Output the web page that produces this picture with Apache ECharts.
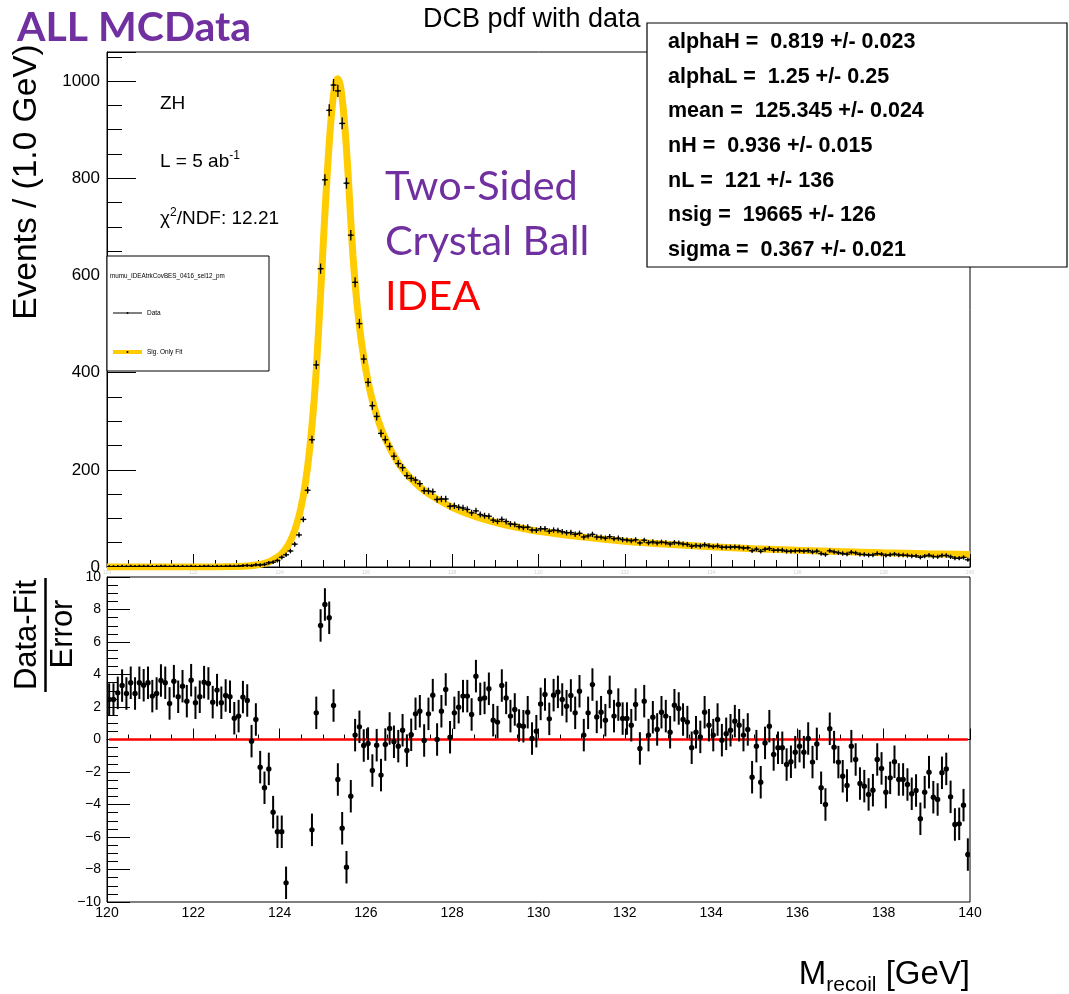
<!DOCTYPE html>
<html>
<head>
<meta charset="utf-8">
<script src="https://cdn.jsdelivr.net/npm/echarts@6/dist/echarts.min.js"></script>
<style>
  html, body { margin: 0; padding: 0; background: #fff; }
  #chart { width: 1069px; height: 994px; }
</style>
</head>
<body>
<div id="chart"></div>
<script>
// Histogram binning of the recoil-mass spectrum
const HIST_MIN = 120;
const BIN_WIDTH = 0.1;
const N_BINS = 200;

// Weighted event counts per 0.1 GeV bin (120.05 ... 139.95 GeV)
const dataY = [
  0.5, 0.5, 0.7, 1.0, 0.7, 1.1, 0.7, 1.1, 1.0, 1.1,
  0.6, 0.7, 1.2, 1.1, 0.4, 1.2, 0.6, 1.0, 0.5, 1.2,
  0.5, 0.6, 1.2, 1.3, 0.7, 1.2, 0.9, 1.3, 1.5, 1.2,
  1.6, 2.7, 3.3, 2.7, 4.6, 4.2, 5.3, 8.6, 10.0, 13.5,
  20.0, 25.2, 33, 47, 66, 98, 158, 262, 416, 614,
  797, 940, 992, 980, 913, 790, 683, 586, 501, 428,
  380, 332, 310, 275, 262, 248, 228, 213, 204.5, 188,
  182.5, 179, 171.5, 157, 156.5, 155, 139, 140, 140, 125,
  126, 123, 121.5, 118.5, 111.5, 115.5, 108, 105.5, 104.5, 96.5,
  94, 98, 93.7, 88.6, 87.7, 83.2, 81.4, 82, 76.2, 75.8,
  78.7, 78.7, 73.6, 75.9, 75, 72.6, 70.5, 70.9, 67.3, 69.3,
  61.8, 64.1, 67.2, 61.7, 61.4, 59.4, 62.5, 58.3, 59.2, 56.4,
  55.6, 54, 56, 49.6, 55.1, 50, 51.7, 49.5, 51.2, 50.1,
  47.4, 50.3, 49.4, 47.4, 46.5, 42.9, 44.3, 43.2, 45.8, 43.7,
  42, 43.5, 40.6, 40.9, 40.9, 41.5, 40.6, 39.1, 39.5, 33.6,
  36.7, 32.4, 36.4, 38, 34.4, 34.9, 34.6, 32.5, 32.5, 33.2,
  33.6, 32.6, 33.8, 31, 32.6, 27.7, 25.7, 33.4, 31.2, 29.4,
  27.7, 26.6, 30.3, 28.8, 26, 25.6, 24.5, 24.8, 27.6, 26.5,
  23.9, 25.2, 26.6, 24.7, 24.5, 23.8, 22.7, 22.8, 20, 22.4,
  24.1, 21.6, 21.2, 23.6, 23.8, 21, 18.2, 18.1, 19.7, 14.9
];

// Statistical uncertainty on each bin
const dataErr = [
  0.2, 0.2, 0.3, 0.3, 0.3, 0.3, 0.3, 0.3, 0.3, 0.3,
  0.2, 0.3, 0.3, 0.3, 0.2, 0.3, 0.2, 0.3, 0.2, 0.3,
  0.2, 0.2, 0.3, 0.3, 0.3, 0.3, 0.3, 0.3, 0.4, 0.3,
  0.4, 0.5, 0.5, 0.5, 0.6, 0.6, 0.7, 0.9, 0.9, 1.1,
  1.3, 1.5, 1.7, 2.1, 2.4, 3.0, 3.8, 4.9, 6.1, 7.4,
  8.5, 9.2, 9.4, 9.4, 9.1, 8.4, 7.8, 7.3, 6.7, 6.2,
  5.8, 5.5, 5.3, 5.0, 4.9, 4.7, 4.5, 4.4, 4.3, 4.1,
  4.1, 4.0, 3.9, 3.8, 3.8, 3.7, 3.5, 3.5, 3.5, 3.4,
  3.4, 3.3, 3.3, 3.3, 3.2, 3.2, 3.1, 3.1, 3.1, 2.9,
  2.9, 3.0, 2.9, 2.8, 2.8, 2.7, 2.7, 2.7, 2.6, 2.6,
  2.7, 2.7, 2.6, 2.6, 2.6, 2.6, 2.5, 2.5, 2.5, 2.5,
  2.4, 2.4, 2.5, 2.4, 2.4, 2.3, 2.4, 2.3, 2.3, 2.3,
  2.2, 2.2, 2.2, 2.1, 2.2, 2.1, 2.2, 2.1, 2.1, 2.1,
  2.1, 2.1, 2.1, 2.1, 2.0, 2.0, 2.0, 2.0, 2.0, 2.0,
  1.9, 2.0, 1.9, 1.9, 1.9, 1.9, 1.9, 1.9, 1.9, 1.7,
  1.8, 1.7, 1.8, 1.8, 1.8, 1.8, 1.8, 1.7, 1.7, 1.7,
  1.7, 1.7, 1.7, 1.7, 1.7, 1.6, 1.5, 1.7, 1.7, 1.6,
  1.6, 1.5, 1.7, 1.6, 1.5, 1.5, 1.5, 1.5, 1.6, 1.5,
  1.5, 1.5, 1.5, 1.5, 1.5, 1.5, 1.4, 1.4, 1.3, 1.4,
  1.5, 1.4, 1.4, 1.5, 1.5, 1.4, 1.3, 1.3, 1.3, 1.2
];

// Double Crystal Ball fit curve (signal only)
const fitX = [
  120, 121, 122, 122.5, 123, 123.25, 123.5, 123.75, 124, 124.1,
  124.2, 124.3, 124.4, 124.5, 124.6, 124.7, 124.8, 124.85, 124.9, 124.95,
  125.0, 125.05, 125.1, 125.15, 125.2, 125.25, 125.3, 125.345, 125.4, 125.45,
  125.5, 125.55, 125.6, 125.65, 125.7, 125.75, 125.8, 125.85, 125.9, 126.0,
  126.1, 126.2, 126.3, 126.4, 126.6, 126.8, 127.0, 127.25, 127.5, 128,
  128.5, 129, 129.5, 130, 131, 132, 133, 134, 135, 136,
  137, 138, 139, 140
];
const fitY = [
  0, 0, 0.04, 0.18, 0.88, 1.98, 4.5, 10.2, 23.3, 32.6,
  45.4, 63.5, 88.8, 124, 174, 245, 343, 406.6, 482, 563,
  646, 727.5, 804, 872.7, 930, 971.9, 997, 1005, 994, 964.7,
  919, 859.9, 790, 711.6, 641, 584, 536, 496, 461, 405,
  361, 327, 298, 274, 237, 208, 186, 164.7, 148, 123,
  105, 92, 81.8, 73.5, 62, 53, 46.7, 41.7, 37.7, 34.4,
  31.7, 29.4, 27.4, 25.7
];

// (Data - Fit) / Error per bin; null where the pull falls below the axis range
const pullY = [
  2.46, 2.46, 2.87, 3.32, 2.83, 3.49, 2.83, 3.49, 3.34, 3.49,
  2.67, 2.83, 3.63, 3.49, 2.22, 3.59, 2.63, 3.28, 2.36, 3.65,
  2.26, 2.63, 3.53, 3.45, 2.30, 3.04, 2.26, 2.71, 2.63, 1.31,
  1.44, 2.61, 2.40, -0.10, 1.23, -1.70, -2.97, -1.81, -4.47, -5.68,
  -5.68, -8.82, null, null, null, null, null, -5.56, 1.64, 7.02,
  8.31, 7.49, 2.09, -2.46, -5.46, -7.86, -3.49, 0.27, 0.78, -0.37,
  -0.25, -1.91, -0.35, -2.19, -0.31, 0.68, -0.14, -0.41, 0.57, -0.68,
  0.29, 1.58, 1.74, -0.06, 1.58, 2.73, 0.00, 1.74, 3.08, 0.14,
  1.64, 1.99, 2.67, 2.67, 1.54, 3.90, 2.50, 2.56, 3.12, 1.19,
  1.07, 3.32, 2.56, 1.44, 1.85, 0.86, 0.82, 1.68, 0.06, 0.51,
  2.19, 2.77, 1.27, 2.73, 2.93, 2.46, 2.05, 2.71, 1.64, 2.97,
  0.27, 1.64, 3.38, 1.39, 1.68, 1.19, 2.93, 1.44, 2.15, 1.29,
  1.29, 0.88, 2.15, -0.55, 2.36, 0.27, 1.37, 0.62, 1.68, 1.44,
  0.45, 2.11, 1.91, 1.23, 1.07, -0.51, 0.45, 0.16, 1.68, 0.88,
  0.27, 1.23, -0.04, 0.35, 0.57, 1.13, 0.88, 0.27, 0.62, -2.32,
  -0.41, -2.63, -0.21, 0.82, -0.92, -0.51, -0.51, -1.54, -1.37, -0.78,
  -0.41, -0.78, 0.06, -1.39, -0.27, -2.97, -4.00, 0.66, -0.47, -1.39,
  -2.26, -2.83, -0.41, -1.23, -2.71, -2.87, -3.38, -3.12, -1.23, -1.78,
  -3.24, -2.36, -1.37, -2.46, -2.46, -2.77, -3.34, -3.14, -4.88, -3.24,
  -2.01, -3.55, -3.69, -2.05, -1.81, -3.53, -5.23, -5.19, -4.04, -7.08
];
const PULL_ERR = 1; // pulls carry unit uncertainty

// Fit parameter summary
const statLines = [
  'alphaH =  0.819 +/- 0.023',
  'alphaL =  1.25 +/- 0.25',
  'mean =  125.345 +/- 0.024',
  'nH =  0.936 +/- 0.015',
  'nL =  121 +/- 136',
  'nsig =  19665 +/- 126',
  'sigma =  0.367 +/- 0.021'
];

const binCenters = Array.from({ length: N_BINS }, (_, i) => +(HIST_MIN + (i + 0.5) * BIN_WIDTH).toFixed(2));

const HELV = '"Liberation Sans", Arial, Helvetica, sans-serif';
const CAL = 'Lato, "Open Sans", sans-serif';
const PURPLE = '#7030A0';
const FIT_YELLOW = '#FFCC00';

const chart = echarts.init(document.getElementById('chart'), null, { renderer: 'canvas' });

function renderCross(params, api) {
  const x = api.value(0), v = api.value(1), e = api.value(2);
  const top = api.coord([x, v + e]);
  const bot = api.coord([x, v - e]);
  const l = api.coord([x - BIN_WIDTH / 2, v]);
  const r = api.coord([x + BIN_WIDTH / 2, v]);
  const style = { stroke: '#000', lineWidth: 1.3 };
  return {
    type: 'group',
    children: [
      { type: 'line', shape: { x1: top[0], y1: top[1] - 1.5, x2: bot[0], y2: bot[1] + 1.5 }, style },
      { type: 'line', shape: { x1: l[0] - 0.8, y1: l[1], x2: r[0] + 0.8, y2: r[1] }, style },
      { type: 'circle', shape: { cx: (l[0] + r[0]) / 2, cy: l[1], r: 1.2 }, style: { fill: '#000' } }
    ]
  };
}

function renderPull(params, api) {
  const x = api.value(0), p = api.value(1);
  const c = api.coord([x, p]);
  const t = api.coord([x, p + PULL_ERR]);
  const b = api.coord([x, p - PULL_ERR]);
  return {
    type: 'group',
    children: [
      { type: 'line', shape: { x1: t[0], y1: t[1], x2: b[0], y2: b[1] }, style: { stroke: '#000', lineWidth: 2 } },
      { type: 'circle', shape: { cx: c[0], cy: c[1], r: 2.7 }, style: { fill: '#000' } }
    ]
  };
}

const axisBlack = { color: '#000', width: 1 };
const minusFmt = v => (v < 0 ? '\u2212' + Math.abs(v) : String(v));
const plainFmt = v => String(v);

const graphics = [];
// Top-left banner
graphics.push({ type: 'text', x: 17, y: 28, z: 100,
  style: { text: 'ALL MCData', font: 'bold 41px ' + CAL, fill: PURPLE, align: 'left', verticalAlign: 'middle' } });
// Plot title
graphics.push({ type: 'text', x: 423, y: 20, z: 99,
  style: { text: 'DCB pdf with data', font: '27px ' + HELV, fill: '#000', align: 'left', verticalAlign: 'middle' } });
// Parameter box
graphics.push({ type: 'rect', z: 100, shape: { x: 647, y: 23, width: 420, height: 244 },
  style: { fill: '#fff', stroke: '#000', lineWidth: 1.2 } });
statLines.forEach((s, k) => {
  graphics.push({ type: 'text', x: 668, y: 42 + k * 34.7, z: 101,
    style: { text: s, font: 'bold 21.5px ' + HELV, fill: '#000', align: 'left', verticalAlign: 'middle' } });
});
// Sample / luminosity / fit quality
graphics.push({ type: 'text', x: 160, y: 104, z: 100,
  style: { text: 'ZH', font: '19px ' + HELV, fill: '#000', align: 'left', verticalAlign: 'middle' } });
graphics.push({ type: 'text', x: 160, y: 162, z: 100,
  style: { text: '{n|L = 5 ab}{s|-1}', fill: '#000', align: 'left', verticalAlign: 'middle',
    rich: { n: { font: '19px ' + HELV, fill: '#000' }, s: { font: '12px ' + HELV, fill: '#000', padding: [0, 0, 12, 0] } } } });
graphics.push({ type: 'text', x: 160, y: 219, z: 100,
  style: { text: '{n|\u03c7}{s|2}{n|/NDF: 12.21}', fill: '#000', align: 'left', verticalAlign: 'middle',
    rich: { n: { font: '19px ' + HELV, fill: '#000' }, s: { font: '12px ' + HELV, fill: '#000', padding: [0, 0, 12, 0] } } } });
// Legend box
graphics.push({ type: 'rect', z: 100, shape: { x: 107, y: 256, width: 162, height: 115 },
  style: { fill: '#fff', stroke: '#000', lineWidth: 1 } });
graphics.push({ type: 'text', x: 110, y: 276, z: 101,
  style: { text: 'mumu_IDEAtrkCovBES_0416_sel12_pm', font: '6.3px ' + HELV, fill: '#000', align: 'left', verticalAlign: 'middle' } });
graphics.push({ type: 'line', z: 101, shape: { x1: 113, y1: 313, x2: 142, y2: 313 }, style: { stroke: '#000', lineWidth: 1 } });
graphics.push({ type: 'circle', z: 102, shape: { cx: 127.5, cy: 313, r: 1 }, style: { fill: '#000' } });
graphics.push({ type: 'text', x: 147, y: 313, z: 101,
  style: { text: 'Data', font: '6.5px ' + HELV, fill: '#000', align: 'left', verticalAlign: 'middle' } });
graphics.push({ type: 'line', z: 101, shape: { x1: 113, y1: 352, x2: 142, y2: 352 }, style: { stroke: FIT_YELLOW, lineWidth: 4 } });
graphics.push({ type: 'circle', z: 102, shape: { cx: 127.5, cy: 352, r: 1 }, style: { fill: '#000' } });
graphics.push({ type: 'text', x: 147, y: 352, z: 101,
  style: { text: 'Sig. Only Fit', font: '6.5px ' + HELV, fill: '#000', align: 'left', verticalAlign: 'middle' } });
// Model / detector annotation
graphics.push({ type: 'text', x: 385, y: 187, z: 100,
  style: { text: 'Two-Sided', font: '41.5px ' + CAL, fill: PURPLE, align: 'left', verticalAlign: 'middle' } });
graphics.push({ type: 'text', x: 385, y: 242, z: 100,
  style: { text: 'Crystal Ball', font: '41.5px ' + CAL, fill: PURPLE, align: 'left', verticalAlign: 'middle' } });
graphics.push({ type: 'text', x: 385, y: 297, z: 100,
  style: { text: 'IDEA', font: '41.5px ' + CAL, fill: '#FF0000', align: 'left', verticalAlign: 'middle' } });
// Axis titles
graphics.push({ type: 'text', x: 27, y: 182, rotation: Math.PI / 2, z: 100,
  style: { text: 'Events / (1.0 GeV)', font: '33.5px ' + HELV, fill: '#000', align: 'center', verticalAlign: 'middle' } });
graphics.push({ type: 'text', x: 27, y: 635, rotation: Math.PI / 2, z: 100,
  style: { text: 'Data-Fit', font: '31px ' + HELV, fill: '#000', align: 'center', verticalAlign: 'middle' } });
graphics.push({ type: 'line', z: 100, shape: { x1: 45.5, y1: 578, x2: 45.5, y2: 692 }, style: { stroke: '#000', lineWidth: 2.5 } });
graphics.push({ type: 'text', x: 63, y: 634, rotation: Math.PI / 2, z: 100,
  style: { text: 'Error', font: '31px ' + HELV, fill: '#000', align: 'center', verticalAlign: 'middle' } });
graphics.push({ type: 'text', x: 970, y: 975, z: 100,
  style: { text: '{m|M}{s|recoil}{m| [GeV]}', fill: '#000', align: 'right', verticalAlign: 'middle',
    rich: { m: { font: '33px ' + HELV, fill: '#000' }, s: { font: '21px ' + HELV, fill: '#000', padding: [20, 0, 0, 0] } } } });

const option = {
  animation: false,
  backgroundColor: '#fff',
  grid: [
    { left: 107, top: 52, width: 863, height: 515, show: true, borderColor: '#000', borderWidth: 1, backgroundColor: 'transparent' },
    { left: 107, top: 577, width: 863, height: 325, show: true, borderColor: '#000', borderWidth: 1, backgroundColor: 'transparent' }
  ],
  xAxis: [
    { gridIndex: 0, type: 'value', min: 120, max: 140, interval: 2,
      axisLine: { lineStyle: axisBlack },
      axisTick: { inside: true, length: 13, lineStyle: axisBlack },
      minorTick: { show: true, splitNumber: 4, length: 7, lineStyle: axisBlack },
      axisLabel: { show: true, fontSize: 5, color: '#d0d0d0', margin: 3, fontFamily: HELV, formatter: plainFmt },
      splitLine: { show: false } },
    { gridIndex: 1, type: 'value', min: 120, max: 140, interval: 2,
      axisLine: { lineStyle: axisBlack },
      axisTick: { inside: true, length: 11, lineStyle: axisBlack },
      minorTick: { show: true, splitNumber: 4, length: 5, lineStyle: axisBlack },
      axisLabel: { fontSize: 14, color: '#000', margin: 4, fontFamily: HELV, formatter: plainFmt },
      splitLine: { show: false } }
  ],
  yAxis: [
    { gridIndex: 0, type: 'value', min: 0, max: 1060, interval: 200,
      axisLine: { show: true, lineStyle: axisBlack },
      axisTick: { show: true, inside: true, length: 29, lineStyle: axisBlack },
      minorTick: { show: true, splitNumber: 4, length: 15, lineStyle: axisBlack },
      axisLabel: { fontSize: 17, color: '#000', margin: 7, fontFamily: HELV, showMaxLabel: false, formatter: plainFmt },
      splitLine: { show: false } },
    { gridIndex: 1, type: 'value', min: -10, max: 10, interval: 2,
      axisLine: { show: true, lineStyle: axisBlack },
      axisTick: { show: true, inside: true, length: 23, lineStyle: axisBlack },
      minorTick: { show: true, splitNumber: 4, length: 11, lineStyle: axisBlack },
      axisLabel: { fontSize: 14, color: '#000', margin: 6, fontFamily: HELV, formatter: minusFmt },
      splitLine: { show: false } }
  ],
  series: [
    { type: 'line', name: 'Sig. Only Fit', xAxisIndex: 0, yAxisIndex: 0,
      data: fitX.map((x, i) => [x, fitY[i]]),
      showSymbol: false, smooth: 0.25, z: 2,
      lineStyle: { color: FIT_YELLOW, width: 7 } },
    { type: 'custom', name: 'Data', xAxisIndex: 0, yAxisIndex: 0, z: 3, clip: true,
      renderItem: renderCross,
      data: binCenters.map((x, i) => [x, dataY[i], dataErr[i]]) },
    { type: 'line', name: 'zero', xAxisIndex: 1, yAxisIndex: 1, z: 2,
      data: [[binCenters[0], 0], [binCenters[N_BINS - 1], 0]],
      showSymbol: false, lineStyle: { color: '#FF0000', width: 2.5 } },
    { type: 'custom', name: 'Pull', xAxisIndex: 1, yAxisIndex: 1, z: 3, clip: true,
      renderItem: renderPull,
      data: binCenters.map((x, i) => [x, pullY[i]]).filter(d => d[1] !== null) }
  ],
  graphic: graphics
};

chart.setOption(option);
</script>
</body>
</html>
